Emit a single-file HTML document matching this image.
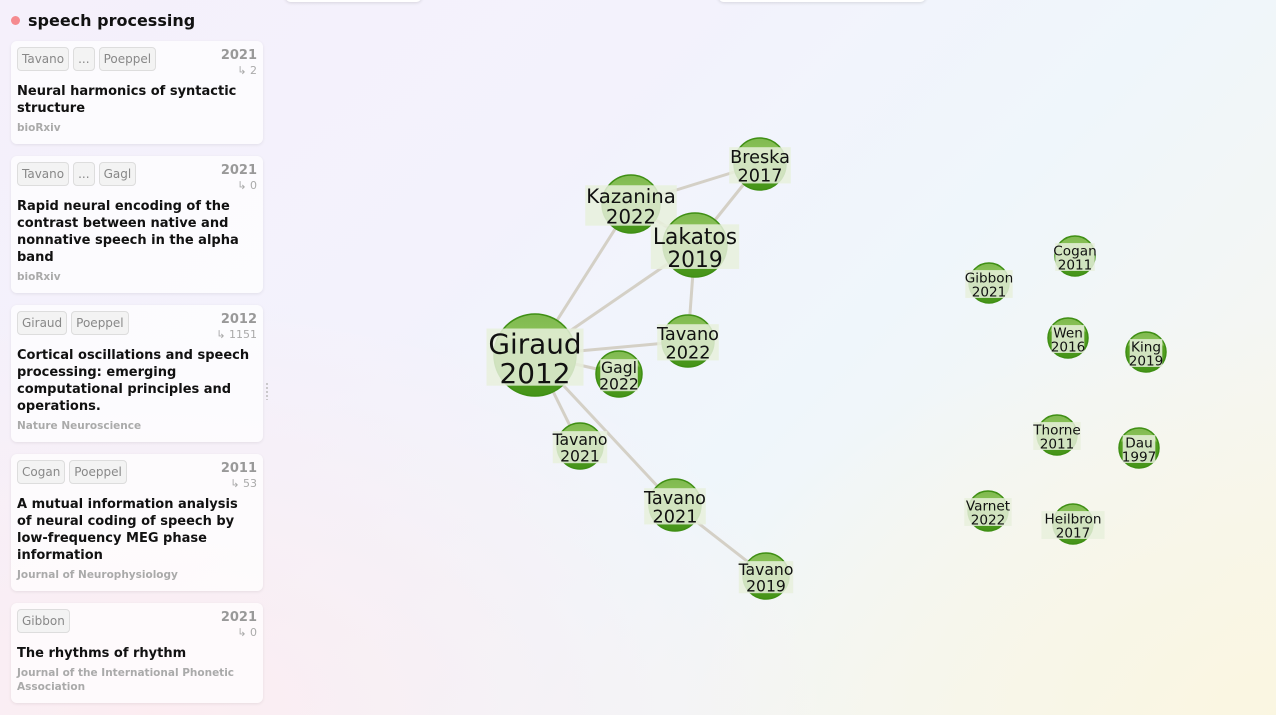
<!DOCTYPE html>
<html><head><meta charset="utf-8">
<style>
*{box-sizing:border-box;margin:0;padding:0}
body{width:1276px;height:715px;overflow:hidden;font-family:"DejaVu Sans","Liberation Sans",sans-serif;position:relative;
background:linear-gradient(135deg,#f5f0fb 0%,#f3f2fc 35%,#eff6fb 60%,#f9f6ec 100%);}
.bgpink{position:absolute;left:0;top:0;width:1276px;height:715px;background:radial-gradient(ellipse 700px 420px at 150px 715px,rgba(253,236,240,0.9),rgba(253,236,240,0));}
.bgcream{position:absolute;left:0;top:0;width:1276px;height:715px;background:radial-gradient(ellipse 600px 400px at 1276px 715px,rgba(250,246,224,0.9),rgba(250,246,224,0));}
.topcard{position:absolute;top:-20px;height:22px;background:#fff;border-radius:6px;box-shadow:0 1px 3px rgba(0,0,0,0.12)}
.title{position:absolute;left:11px;top:11px;font-size:16px;font-weight:bold;color:#111}
.title .dot{display:inline-block;width:9px;height:9px;border-radius:50%;background:#f58a8f;margin-right:8px;vertical-align:1px}
.card{position:absolute;left:11px;width:252px;background:rgba(255,255,255,0.72);border-radius:6px;box-shadow:0 1px 3px rgba(0,0,0,0.08);padding:6px 8px 6px 6px}
.tags{display:flex;gap:4px;height:24px}
.tag{border:1px solid #ddd;background:#f3f3f3;border-radius:4px;font-size:12px;color:#888;padding:0 4px;line-height:22px;height:24px}
.yr{position:absolute;right:6px;top:7px;font-size:13px;font-weight:bold;color:#999;text-align:right}
.cit{position:absolute;right:6px;top:23px;font-size:11px;color:#aaa}
.ptitle{font-size:13px;font-weight:bold;color:#111;line-height:17px;margin-top:12px}
.venue{font-size:10.5px;font-weight:bold;color:#aaa;margin-top:4px;line-height:14px}
.handle{position:absolute;left:266px;top:382px;width:2px;height:18px;background-image:radial-gradient(circle,#bbb 1px,transparent 1px);background-size:2px 4px}
svg{position:absolute;left:0;top:0}
</style></head><body>
<div class="bgpink"></div>
<div class="bgcream"></div>
<div class="topcard" style="left:285px;width:137px"></div>
<div class="topcard" style="left:718px;width:208px"></div>
<div class="title"><span class="dot"></span>speech processing</div>

<div class="card" style="top:41px;height:103px">
<div class="tags"><span class="tag">Tavano</span><span class="tag">...</span><span class="tag">Poeppel</span></div>
<div class="yr">2021</div><div class="cit">↳ 2</div>
<div class="ptitle">Neural harmonics of syntactic structure</div>
<div class="venue">bioRxiv</div></div>

<div class="card" style="top:156px;height:137px">
<div class="tags"><span class="tag">Tavano</span><span class="tag">...</span><span class="tag">Gagl</span></div>
<div class="yr">2021</div><div class="cit">↳ 0</div>
<div class="ptitle">Rapid neural encoding of the contrast between native and nonnative speech in the alpha band</div>
<div class="venue">bioRxiv</div></div>

<div class="card" style="top:305px;height:137px">
<div class="tags"><span class="tag">Giraud</span><span class="tag">Poeppel</span></div>
<div class="yr">2012</div><div class="cit">↳ 1151</div>
<div class="ptitle">Cortical oscillations and speech processing: emerging computational principles and operations.</div>
<div class="venue">Nature Neuroscience</div></div>

<div class="card" style="top:454px;height:137px">
<div class="tags"><span class="tag">Cogan</span><span class="tag">Poeppel</span></div>
<div class="yr">2011</div><div class="cit">↳ 53</div>
<div class="ptitle">A mutual information analysis of neural coding of speech by low-frequency MEG phase information</div>
<div class="venue">Journal of Neurophysiology</div></div>

<div class="card" style="top:603px;height:100px">
<div class="tags"><span class="tag">Gibbon</span></div>
<div class="yr">2021</div><div class="cit">↳ 0</div>
<div class="ptitle">The rhythms of rhythm</div>
<div class="venue">Journal of the International Phonetic Association</div></div>

<div class="handle"></div>

<svg id="g" width="1276" height="715">
<defs><linearGradient id="ng" x1="0" y1="0" x2="0" y2="1">
<stop offset="0" stop-color="#7fb94f"/><stop offset="0.3" stop-color="#8cc35a"/><stop offset="0.36" stop-color="#55a020"/><stop offset="1" stop-color="#46941a"/></linearGradient></defs>
</svg>
<script>
const names=["Giraud","Kazanina","Lakatos","Breska","Tavano","Gagl","Tavano","Tavano","Tavano","Gibbon","Cogan","Wen","King","Thorne","Dau","Varnet","Heilbron"];
const years=["2012","2022","2019","2017","2022","2022","2021","2021","2019","2021","2011","2016","2019","2011","1997","2022","2017"];
const xs=[535,631,695,760,688,619,580,675,766,989,1075,1068,1146,1057,1139,988,1073];
const ys=[355,204,245,164,341,374,446,505,576,283,256,338,352,435,448,511,524];
const radii=[41,29,32,26,26,23,23,26,23,20,20,20,20,20,20,20,20];
const edgeFrom=[0,0,0,0,0,0,1,1,2,2,7];
const edgeTo=[1,2,4,5,6,7,3,2,3,4,8];
const svg=document.getElementById('g');
const NS='http://www.w3.org/2000/svg';
for(let i=0;i<edgeFrom.length;i++){
 const l=document.createElementNS(NS,'line');
 l.setAttribute('x1',xs[edgeFrom[i]]);l.setAttribute('y1',ys[edgeFrom[i]]);
 l.setAttribute('x2',xs[edgeTo[i]]);l.setAttribute('y2',ys[edgeTo[i]]);
 l.setAttribute('stroke','#d4d0c6');l.setAttribute('stroke-width','3');
 
 
 svg.appendChild(l);
}
for(let i=0;i<names.length;i++){
 const g=document.createElementNS(NS,'g');
 
 
 const c=document.createElementNS(NS,'circle');
 c.setAttribute('cx',xs[i]);c.setAttribute('cy',ys[i]);c.setAttribute('r',radii[i]);
 c.setAttribute('fill','url(#ng)');c.setAttribute('stroke','#3f8f14');c.setAttribute('stroke-width','1.5');
 g.appendChild(c);
 const fs=radii[i]*0.68;
 const w1=names[i].length*fs*0.58, w2=years[i].length*fs*0.6;
 const bw=Math.max(w1,w2);
 const bg=document.createElementNS(NS,'rect');
 bg.setAttribute('x',xs[i]-bw/2);bg.setAttribute('y',ys[i]-fs*0.95);
 bg.setAttribute('width',bw);bg.setAttribute('height',fs*2.05);
 bg.setAttribute('fill','#e8f0dc');bg.setAttribute('opacity','0.85');
 g.appendChild(bg);
 [[names[i],-0.05],[years[i],1.0]].forEach(([t,dy])=>{
  const tx=document.createElementNS(NS,'text');
  tx.setAttribute('x',xs[i]);tx.setAttribute('y',ys[i]+fs*dy);
  tx.setAttribute('text-anchor','middle');tx.setAttribute('font-size',fs);
  tx.setAttribute('font-family','DejaVu Sans, Liberation Sans, sans-serif');
  tx.setAttribute('fill','#111');tx.textContent=t;
  
  
  g.appendChild(tx);
 });
 svg.appendChild(g);
}
</script>
</body></html>
